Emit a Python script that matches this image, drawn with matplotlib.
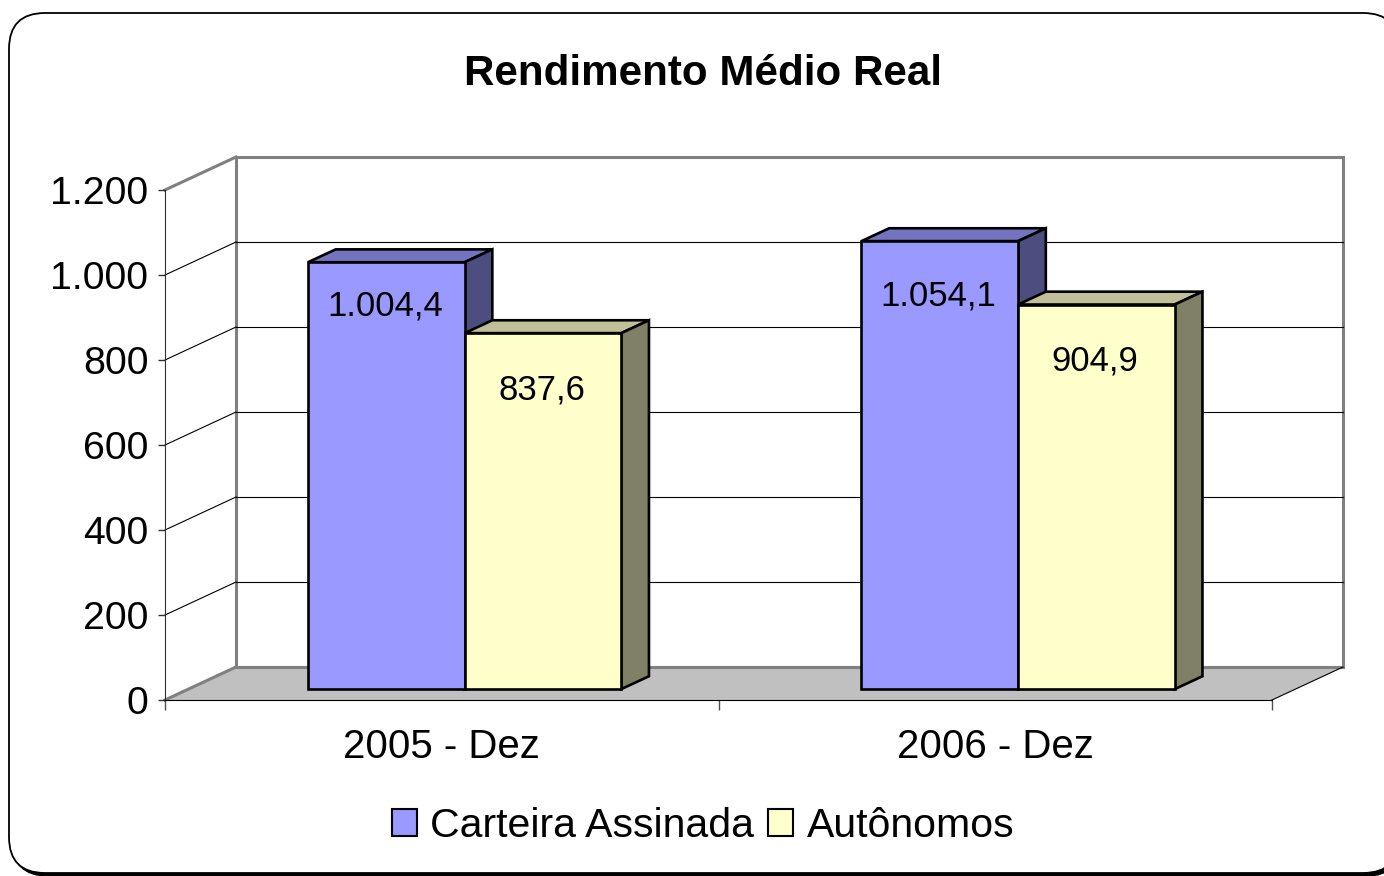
import matplotlib
matplotlib.use('Agg')
import matplotlib.pyplot as plt
from matplotlib.patches import Polygon, Patch, FancyBboxPatch
from matplotlib.ticker import FuncFormatter

categories = ['2005 - Dez', '2006 - Dez']
series_names = ['Carteira Assinada', 'Autônomos']
carteira = [1004.4, 1054.1]
autonomos = [837.6, 904.9]
y_ticks = [0, 200, 400, 600, 800, 1000, 1200]

front_colors = ['#9999FF', '#FFFFCC']
top_colors = ['#7373BF', '#BFBF99']
side_colors = ['#4D4D80', '#808066']
# label drop below bar top, in points (one list per series)
label_drop = [[38, 46], [47.5, 47.5]]

plt.rcParams['font.family'] = ['Liberation Sans', 'DejaVu Sans']

W, H = 1384, 876
fig = plt.figure(figsize=(W / 100, H / 100), dpi=100)

# rounded chart-area border with a small shadow
shadow = FancyBboxPatch((0.12, 0.0), 13.90, 8.60, boxstyle='round,pad=0,rounding_size=0.36',
                        transform=fig.dpi_scale_trans, facecolor='black', edgecolor='black', zorder=-2)
border = FancyBboxPatch((0.09, 0.03), 13.90, 8.60, boxstyle='round,pad=0,rounding_size=0.36',
                        transform=fig.dpi_scale_trans, facecolor='white', edgecolor='black',
                        linewidth=1.3, zorder=-1)
fig.add_artist(shadow)
fig.add_artist(border)

ax = fig.add_axes([165 / W, 176 / H, 1107 / W, 510 / H])
n = len(categories)
ymax = y_ticks[-1]
ax.set_xlim(0, n)
ax.set_ylim(0, ymax)
ax.patch.set_visible(False)

# depth of the 3d box, converted from pixels to data units
DX = 71 * n / 1107
DY = 33 * ymax / 510
d0, d1 = 0.33, 0.72
gap, w = 0.216, 0.283

wall_gray = '#808080'
# back wall and floor
ax.add_patch(Polygon([(DX, DY), (n + DX, DY), (n + DX, ymax + DY), (DX, ymax + DY)], closed=True,
                     facecolor='white', edgecolor=wall_gray, linewidth=2.2, zorder=0.5, clip_on=False))
ax.add_patch(Polygon([(0, 0), (DX, DY), (n + DX, DY), (n, 0)], closed=True,
                     facecolor='#C0C0C0', edgecolor='none', zorder=1, clip_on=False))
for v in y_ticks[1:-1]:
    ax.plot([DX, n + DX], [v + DY, v + DY], color='black', linewidth=0.8, zorder=1, clip_on=False)
    ax.plot([0, DX], [v, v + DY], color='black', linewidth=0.8, zorder=1, clip_on=False)
ax.plot([0, DX], [ymax, ymax + DY], color=wall_gray, linewidth=2.2, zorder=1.2, clip_on=False)
ax.plot([0, DX], [0, DY], color=wall_gray, linewidth=2.2, zorder=1.2, clip_on=False)
ax.plot([DX, n + DX], [DY, DY], color=wall_gray, linewidth=2.2, zorder=1.2, clip_on=False)
ax.plot([n, n + DX], [0, DY], color='black', linewidth=0.8, zorder=1.2, clip_on=False)


def fmt_br(v, dec):
    s = f'{v:,.{dec}f}'
    return s.replace(',', 'X').replace('.', ',').replace('X', '.')


ddx, ddy = (d1 - d0) * DX, (d1 - d0) * DY
for j, vals in enumerate([carteira, autonomos]):
    z = 3 + j
    lefts = [i + gap + j * w + d0 * DX for i in range(n)]
    base = d0 * DY
    for x0, v in zip(lefts, vals):
        top = base + v
        ax.add_patch(Polygon([(x0, top), (x0 + w, top), (x0 + w + ddx, top + ddy), (x0 + ddx, top + ddy)],
                             closed=True, facecolor=top_colors[j], edgecolor='black', linewidth=1.9,
                             joinstyle='miter', zorder=z, clip_on=False))
        ax.add_patch(Polygon([(x0 + w, base), (x0 + w + ddx, base + ddy), (x0 + w + ddx, top + ddy), (x0 + w, top)],
                             closed=True, facecolor=side_colors[j], edgecolor='black', linewidth=1.9,
                             joinstyle='miter', zorder=z, clip_on=False))
    ax.bar(lefts, vals, width=w, bottom=base, align='edge', color=front_colors[j], edgecolor='black',
           linewidth=1.9, zorder=z, clip_on=False)
    for k, (x0, v) in enumerate(zip(lefts, vals)):
        ax.annotate(fmt_br(v, 1), (x0 + w / 2, base + v), xytext=(-1, -label_drop[j][k]),
                    textcoords='offset points', ha='center', va='baseline', fontsize=25, zorder=6)

# axes, ticks
for side in ['top', 'right']:
    ax.spines[side].set_visible(False)
ax.spines['left'].set_color('#303030')
ax.spines['bottom'].set_color('black')
ax.spines['left'].set_zorder(2)
ax.spines['bottom'].set_zorder(2)
ax.set_yticks(y_ticks)
ax.yaxis.set_major_formatter(FuncFormatter(lambda v, p: fmt_br(v, 0)))
ax.tick_params(axis='y', direction='out', length=5, width=1, pad=7, labelsize=28.3, color='#303030')
ax.set_xticks(range(n + 1))
ax.set_xticklabels([])
ax.set_xticks([i + 0.5 for i in range(n)], minor=True)
ax.set_xticklabels(categories, minor=True)
ax.tick_params(axis='x', which='major', direction='out', length=7.5, width=1, color='#505050')
ax.tick_params(axis='x', which='minor', length=0, pad=20, labelsize=29)

fig.text(703 / W, 1 - 85 / H, 'Rendimento Médio Real', ha='center', va='baseline',
         fontsize=30.3, fontweight='bold')

handles = [Patch(facecolor=c, edgecolor='black', linewidth=1.5) for c in front_colors]
fig.legend(handles, series_names, loc='center', bbox_to_anchor=(703 / W, 1 - 826 / H), ncol=2,
           frameon=False, fontsize=29.5, handlelength=0.62, handleheight=0.62, handletextpad=0.33,
           columnspacing=0.33, borderaxespad=0, borderpad=0)

fig.savefig('out.png', dpi=100)
